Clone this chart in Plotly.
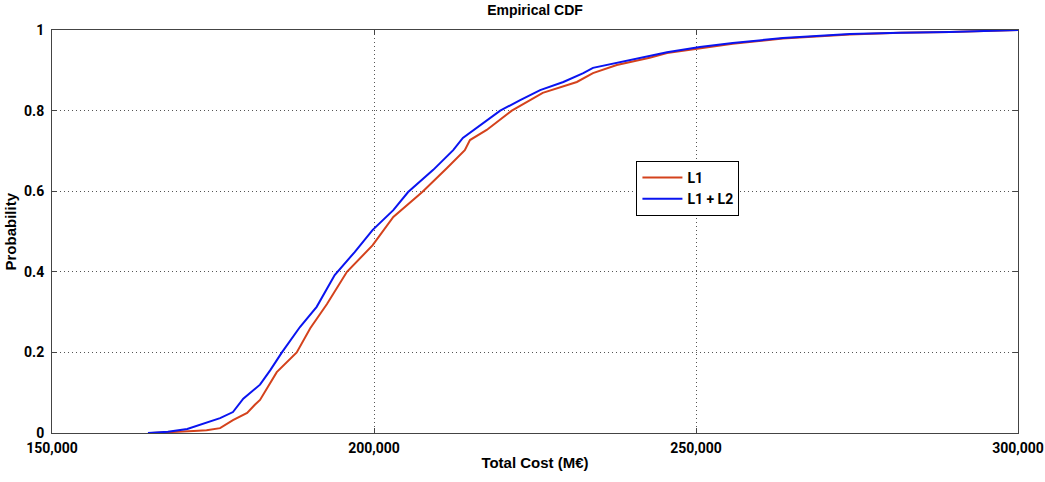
import plotly.graph_objects as go

# L1 + L2 (blue) empirical CDF read points
blue_cost = [164900, 168000, 171000, 174000, 176100, 178100, 179700, 182300, 183900, 185700,
             188500, 191100, 193900, 197000, 199800, 203000, 205300, 209200, 212300, 213800,
             218000, 219600, 222700, 225800, 229400, 232500, 234000, 237700, 241800, 245500,
             250600, 255700, 263500, 273900, 281700, 289400, 300000]
blue_prob = [0.0, 0.003, 0.01, 0.025, 0.037, 0.052, 0.085, 0.12, 0.156, 0.2,
             0.263, 0.313, 0.392, 0.449, 0.504, 0.553, 0.598, 0.653, 0.702, 0.732,
             0.782, 0.8, 0.826, 0.851, 0.871, 0.893, 0.906, 0.918, 0.933, 0.945,
             0.958, 0.968, 0.98, 0.99, 0.993, 0.995, 1.0]

# L1 (red) empirical CDF read points
red_cost = [165500, 169000, 172000, 174000, 176100, 178100, 180300, 181500, 182300, 184900,
            188000, 190100, 192700, 195800, 197800, 199800, 203000, 207500, 211300, 214100,
            214900, 217500, 221400, 226200, 231500, 234000, 237700, 242800, 245500, 250600,
            255700, 263500, 273900, 281700, 289400, 300000]
red_prob = [0.0, 0.002, 0.005, 0.007, 0.012, 0.032, 0.05, 0.07, 0.082, 0.151,
            0.2, 0.26, 0.32, 0.4, 0.434, 0.466, 0.536, 0.598, 0.657, 0.702,
            0.727, 0.752, 0.8, 0.844, 0.871, 0.893, 0.913, 0.931, 0.943, 0.955,
            0.966, 0.979, 0.989, 0.993, 0.995, 1.0]

x_ticks = [150000, 200000, 250000, 300000]
x_labels = ["150,000", "200,000", "250,000", "300,000"]
y_ticks = [0, 0.2, 0.4, 0.6, 0.8, 1.0]
y_labels = ["0", "0.2", "0.4", "0.6", "0.8", "1"]

narrow = "Roboto, Liberation Sans, sans-serif"
tick_font = dict(family=narrow, size=14, color="black", weight="bold")
label_font = dict(family="Arial, Liberation Sans, sans-serif", size=15, color="black", weight="bold")
title_font = dict(family="Arial, Liberation Sans, sans-serif", size=14, color="black", weight="bold")

fig = go.Figure()
fig.add_trace(go.Scatter(x=red_cost, y=red_prob, mode="lines", name="L1",
                         line=dict(color="#d4421c", width=2)))
fig.add_trace(go.Scatter(x=blue_cost, y=blue_prob, mode="lines", name="L1 + L2",
                         line=dict(color="#0a14f0", width=2)))

axis_common = dict(showline=True, linecolor="#444", linewidth=1, mirror="ticks",
                   ticks="inside", ticklen=5, tickcolor="#444",
                   showgrid=True, gridcolor="#555", griddash="1px,3px", gridwidth=1,
                   zeroline=False, automargin=False, ticklabeloverflow="allow",
                   tickfont=tick_font)

fig.update_xaxes(range=[150000, 300000], tickvals=x_ticks, ticktext=x_labels,
                 ticklabelstandoff=2,
                 title=dict(text="Total Cost (M€)", font=label_font, standoff=2),
                 **axis_common)
fig.update_yaxes(range=[0, 1], tickvals=y_ticks, ticktext=y_labels,
                 ticklabelstandoff=4,
                 **axis_common)

fig.add_annotation(text="Probability", xref="paper", yref="paper", x=0, y=0.5,
                   xshift=-42, textangle=-90, showarrow=False, font=label_font,
                   xanchor="center", yanchor="middle")

fig.update_layout(
    width=1045, height=482,
    margin=dict(l=52, r=27, t=30, b=49),
    paper_bgcolor="white", plot_bgcolor="white",
    title=dict(text="Empirical CDF", x=0.5, xref="paper", y=0.99, yanchor="top",
               pad=dict(t=0), font=title_font),
    legend=dict(x=0.605, y=0.675, xanchor="left", yanchor="top",
                bgcolor="white", bordercolor="black", borderwidth=1,
                font=dict(family=narrow, size=14, color="black", weight="bold"),
                itemwidth=40, tracegroupgap=0),
    showlegend=True,
)

fig.write_html("out.html", config={"displayModeBar": False},
               post_script="document.body.style.margin='0';document.body.style.overflow='hidden';")
